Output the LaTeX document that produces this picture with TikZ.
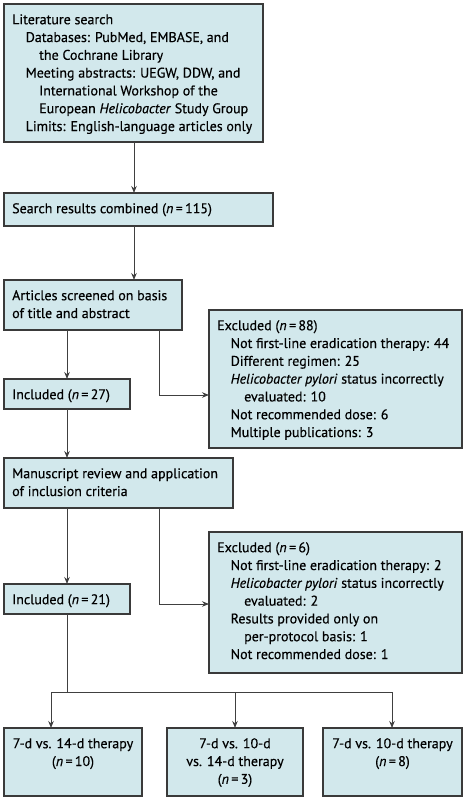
\documentclass[tikz,border=0pt]{standalone}
\usepackage{fontspec}
\setmainfont{PT Sans}[FakeBold=0.4]
\usetikzlibrary{arrows.meta}
\definecolor{boxfill}{HTML}{D2E8EC}
\definecolor{boxline}{HTML}{3A3A3A}
\definecolor{arrline}{HTML}{404040}
\newcommand{\ia}{\hspace*{13.5pt}}
\newcommand{\ib}{\hspace*{27pt}}
\newcommand{\fl}{\rule{0pt}{20pt}}
\begin{document}
\begin{tikzpicture}[x=1pt,y=-1pt,
  box/.style={draw=boxline, fill=boxfill, line width=1.1pt, inner sep=0pt, outer sep=0pt, anchor=north west},
  txt/.style={anchor=north west, inner sep=0pt, align=left, font=\fontsize{14}{17.8}\selectfont},
  ctxt/.style={anchor=north, inner sep=0pt, align=center, font=\fontsize{14}{17.8}\selectfont},
  arr/.style={draw=arrline, line width=0.9pt, -{Stealth[length=7pt,width=5.5pt]}},
  ln/.style={draw=arrline, line width=0.9pt}]
\useasboundingbox (0,0) rectangle (466,800);
% boxes
\node[box, minimum width=259pt, minimum height=138pt] (b1) at (4,4) {};
\node[box, minimum width=269pt, minimum height=33pt] (b2) at (4,193) {};
\node[box, minimum width=178pt, minimum height=50pt] (b3) at (4,280) {};
\node[box, minimum width=253pt, minimum height=138pt] (ex1) at (209,310) {};
\node[box, minimum width=126pt, minimum height=30pt] (inc1) at (4,379) {};
\node[box, minimum width=229pt, minimum height=50pt] (b4) at (4,458) {};
\node[box, minimum width=253pt, minimum height=141pt] (ex2) at (209,532) {};
\node[box, minimum width=126pt, minimum height=30pt] (inc2) at (4,584) {};
\node[box, minimum width=138pt, minimum height=68pt] (bA) at (4,728) {};
\node[box, minimum width=136pt, minimum height=68pt] (bB) at (167,728) {};
\node[box, minimum width=139pt, minimum height=68pt] (bC) at (323,728) {};
% texts
\node[txt] (t1) at (12,4) {\fl Literature search\\
\ia Databases: PubMed, EMBASE, and\\
\ib the Cochrane Library\\
\ia Meeting abstracts: UEGW, DDW, and\\
\ib International Workshop of the\\
\ib European \textit{Helicobacter} Study Group\\
\ia Limits: English-language articles only};
\node[txt] (t2) at (12,193) {\fl Search results combined (\textit{n}\,=\,115)};
\node[txt] (t3) at (12,280) {\fl Articles screened on basis\\of title and abstract};
\node[txt] (tex1) at (217,310) {\fl Excluded (\textit{n}\,=\,88)\\
\ia Not first-line eradication therapy: 44\\
\ia Different regimen: 25\\
\ia \textit{Helicobacter pylori} status incorrectly\\
\ib evaluated: 10\\
\ia Not recommended dose: 6\\
\ia Multiple publications: 3};
\node[txt] (tinc1) at (12,379) {\fl Included (\textit{n}\,=\,27)};
\node[txt] (t4) at (12,458) {\fl Manuscript review and application\\of inclusion criteria};
\node[txt] (tex2) at (217,532) {\fl Excluded (\textit{n}\,=\,6)\\
\ia Not first-line eradication therapy: 2\\
\ia \textit{Helicobacter pylori} status incorrectly\\
\ib evaluated: 2\\
\ia Results provided only on\\
\ib per-protocol basis: 1\\
\ia Not recommended dose: 1};
\node[txt] (tinc2) at (12,584) {\fl Included (\textit{n}\,=\,21)};
\node[ctxt] (tA) at (bA.north) {\fl 7-d vs. 14-d therapy\\(\textit{n}\,=\,10)};
\node[ctxt] (tB) at (bB.north) {\fl 7-d vs. 10-d\\vs. 14-d therapy\\(\textit{n}\,=\,3)};
\node[ctxt] (tC) at (bC.north) {\fl 7-d vs. 10-d therapy\\(\textit{n}\,=\,8)};
% coordinates
\coordinate (x1) at (134,0);
\coordinate (c1) at (159,395);
\coordinate (c2) at (159,604);
\coordinate (h) at (0,692);
\coordinate (xa) at (51,0);
\coordinate (xb) at (235,0);
\coordinate (xc) at (392,0);
% connectors
\draw[arr] (b1.south -| x1) -- (b2.north -| x1);
\draw[arr] (b2.south -| x1) -- (b3.north -| x1);
\draw[arr] (inc1.north |- b3.south) -- (inc1.north);
\draw[arr] (c1 |- b3.south) |- (c1 -| ex1.west);
\draw[arr] (inc1.south) -- (inc1.south |- b4.north);
\draw[arr] (inc2.north |- b4.south) -- (inc2.north);
\draw[arr] (c2 |- b4.south) |- (c2 -| ex2.west);
\draw[ln] (inc2.south) -- (inc2.south |- h);
\draw[ln] (xa |- h) -- (xc |- h);
\draw[arr] (xa |- h) -- (xa |- bA.north);
\draw[arr] (xb |- h) -- (xb |- bB.north);
\draw[arr] (xc |- h) -- (xc |- bC.north);
\end{tikzpicture}
\end{document}
